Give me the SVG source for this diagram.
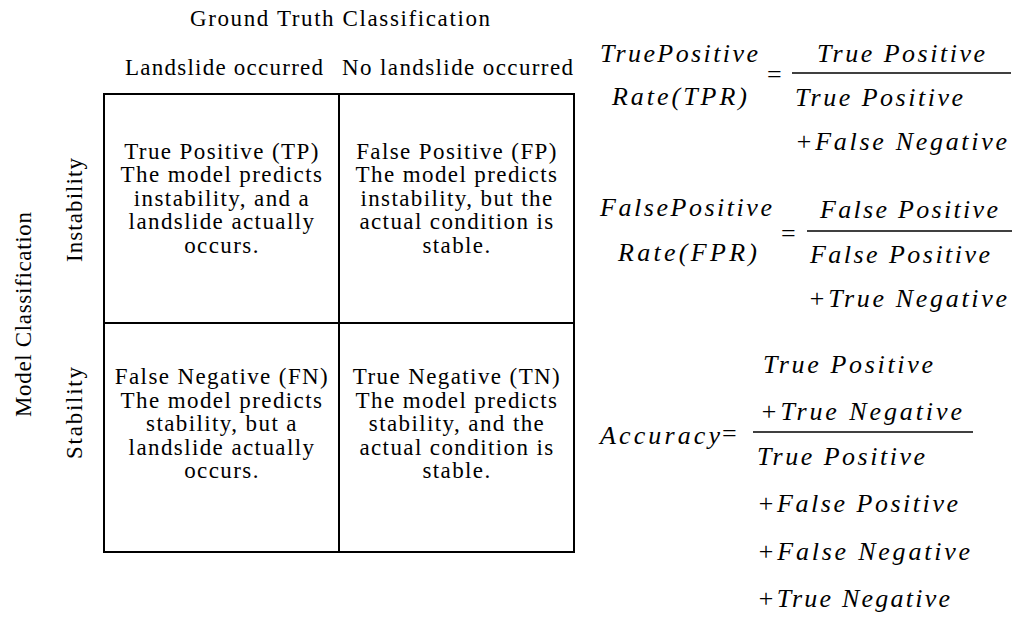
<svg xmlns="http://www.w3.org/2000/svg" width="1014" height="617" viewBox="0 0 1014 617">
<style>
  text { font-family: "Liberation Serif", "Times New Roman", serif; fill: #000; }
  .t { font-size: 23px; }
  .c { font-size: 23px; text-anchor: middle; letter-spacing: 1.4px; }
  .m { font-size: 26px; font-style: italic; }
  .eq { font-size: 26px; }
  .ln { stroke: #000; stroke-width: 2; fill: none; }
  .bar { stroke: #000; stroke-width: 1.5; }
</style>
<rect width="1014" height="617" fill="#fff"/>

<g id="headers">
  <text class="t" x="190" y="26" textLength="300" lengthAdjust="spacing">Ground Truth Classification</text>
  <text class="t" x="125" y="75" textLength="198" lengthAdjust="spacing">Landslide occurred</text>
  <text class="t" x="342" y="75" textLength="231" lengthAdjust="spacing">No landslide occurred</text>
  <text class="t" transform="translate(31,417) rotate(-90)" x="0" y="0" textLength="205" lengthAdjust="spacing">Model Classification</text>
  <text class="t" transform="translate(82,262) rotate(-90)" x="0" y="0" textLength="104" lengthAdjust="spacing">Instability</text>
  <text class="t" transform="translate(82,459) rotate(-90)" x="0" y="0" textLength="92" lengthAdjust="spacing">Stability</text>
</g>

<g id="grid">
  <rect class="ln" x="104" y="94" width="470" height="458"/>
  <line class="ln" x1="339" y1="94" x2="339" y2="552"/>
  <line class="ln" x1="104" y1="323" x2="574" y2="323"/>
</g>

<g id="cell-tp">
  <text class="c" x="222" y="158.5">True Positive (TP)<tspan x="222" dy="23.5">The model predicts</tspan><tspan x="222" dy="23.5">instability, and a</tspan><tspan x="222" dy="23.5">landslide actually</tspan><tspan x="222" dy="23.5">occurs.</tspan></text>
</g>
<g id="cell-fp">
  <text class="c" x="457" y="158.5">False Positive (FP)<tspan x="457" dy="23.5">The model predicts</tspan><tspan x="457" dy="23.5">instability, but the</tspan><tspan x="457" dy="23.5">actual condition is</tspan><tspan x="457" dy="23.5">stable.</tspan></text>
</g>
<g id="cell-fn">
  <text class="c" x="222" y="384">False Negative (FN)<tspan x="222" dy="23.5">The model predicts</tspan><tspan x="222" dy="23.5">stability, but a</tspan><tspan x="222" dy="23.5">landslide actually</tspan><tspan x="222" dy="23.5">occurs.</tspan></text>
</g>
<g id="cell-tn">
  <text class="c" x="457" y="384">True Negative (TN)<tspan x="457" dy="23.5">The model predicts</tspan><tspan x="457" dy="23.5">stability, and the</tspan><tspan x="457" dy="23.5">actual condition is</tspan><tspan x="457" dy="23.5">stable.</tspan></text>
</g>

<g id="formula-tpr">
  <text class="m" x="600" y="62" textLength="158" lengthAdjust="spacing">TruePositive</text>
  <text class="m" x="612" y="105" textLength="135" lengthAdjust="spacing">Rate(TPR)</text>
  <text class="eq" x="767" y="83">=</text>
  <line class="bar" x1="792" y1="73" x2="1011" y2="73"/>
  <text class="m" x="817" y="62" textLength="168" lengthAdjust="spacing">True Positive</text>
  <text class="m" x="795" y="106" textLength="168" lengthAdjust="spacing">True Positive</text>
  <text class="m" x="795" y="150" textLength="212" lengthAdjust="spacing">+False Negative</text>
</g>

<g id="formula-fpr">
  <text class="m" x="600" y="216" textLength="172" lengthAdjust="spacing">FalsePositive</text>
  <text class="m" x="618" y="261" textLength="139" lengthAdjust="spacing">Rate(FPR)</text>
  <text class="eq" x="781" y="242">=</text>
  <line class="bar" x1="807" y1="231" x2="1012" y2="231"/>
  <text class="m" x="820" y="218" textLength="178" lengthAdjust="spacing">False Positive</text>
  <text class="m" x="810" y="263" textLength="180" lengthAdjust="spacing">False Positive</text>
  <text class="m" x="808" y="307" textLength="199" lengthAdjust="spacing">+True Negative</text>
</g>

<g id="formula-accuracy">
  <text class="m" x="600" y="444" textLength="120" lengthAdjust="spacing">Accuracy</text>
  <text class="eq" x="722" y="442">=</text>
  <line class="bar" x1="753" y1="432" x2="973" y2="432"/>
  <text class="m" x="763" y="373" textLength="170" lengthAdjust="spacing">True Positive</text>
  <text class="m" x="760" y="420" textLength="202" lengthAdjust="spacing">+True Negative</text>
  <text class="m" x="757" y="465" textLength="168" lengthAdjust="spacing">True Positive</text>
  <text class="m" x="757" y="512" textLength="201" lengthAdjust="spacing">+False Positive</text>
  <text class="m" x="757" y="560" textLength="213" lengthAdjust="spacing">+False Negative</text>
  <text class="m" x="757" y="607" textLength="193" lengthAdjust="spacing">+True Negative</text>
</g>
</svg>
